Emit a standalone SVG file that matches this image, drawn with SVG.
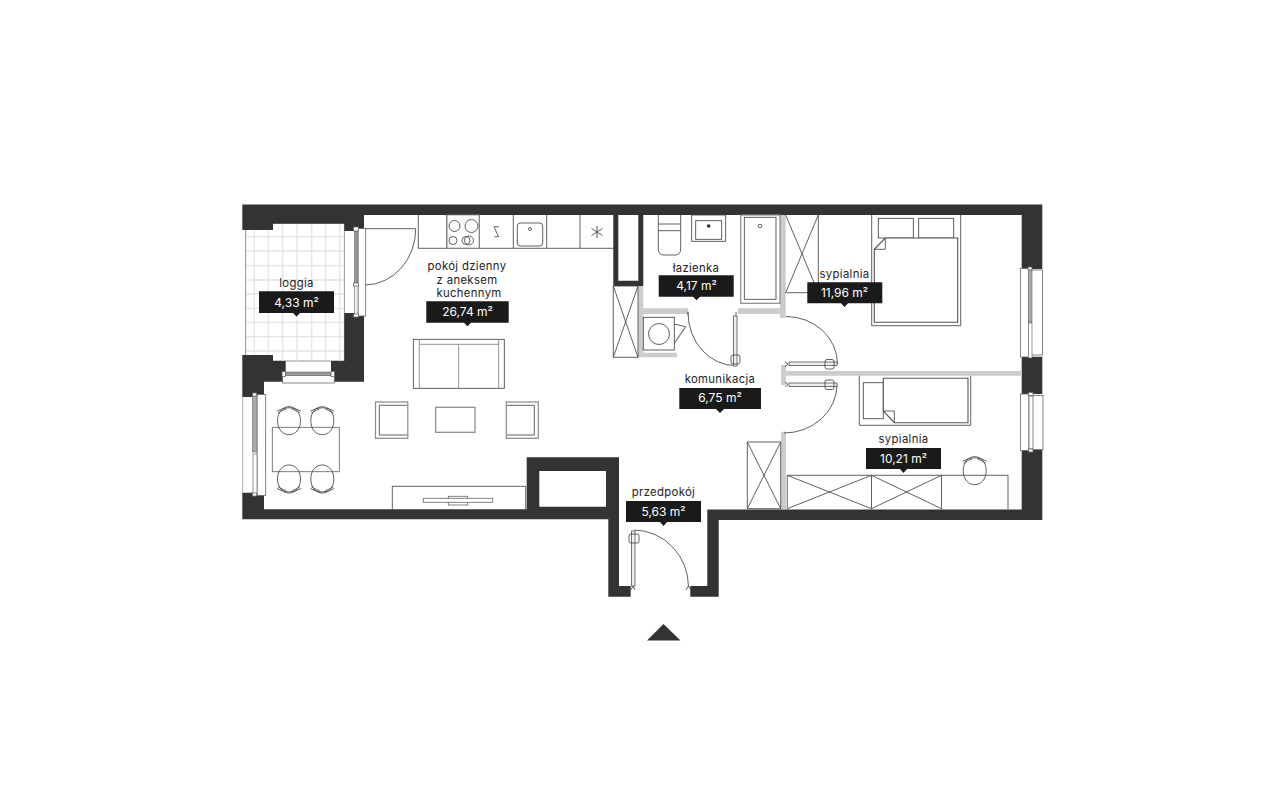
<svg xmlns="http://www.w3.org/2000/svg" width="1280" height="800" viewBox="0 0 1280 800">
<style>
.w{fill:#333}
.p{fill:#ccc}
.l{fill:none;stroke:#444;stroke-width:.85}
.g{fill:none;stroke:#888;stroke-width:1.2}
.wf{fill:#fff;stroke:#666;stroke-width:.8}
.lf{fill:#eee;stroke:#666;stroke-width:.9}
.t{stroke:#e4e4e4;stroke-width:1.3;fill:none}
.n{font-family:"Inter","Liberation Sans",sans-serif;font-size:11.3px;fill:#222;text-anchor:middle;letter-spacing:.35px}
.a{font-family:"Inter","Liberation Sans",sans-serif;font-size:12px;fill:#fff;text-anchor:middle}
.b{fill:#1a1a1a}
</style>
<defs>
<path id="chair" d="M-11.5 0C-11.5-9-6-14 0-14S11.500-9 11.500 0 6 14 0 14-11.500 9-11.500 0Z"/>
<path id="back" d="M-12 -9.500Q0 -16.500 12 -9.500M-11 -7.500Q-5 -11.500 -3 -11.500M11 -7.500Q5 -11.500 3 -11.500"/>
</defs>
<rect width="1280" height="800" fill="#fff"/>

<g id="loggia-floor">
<rect x="245.700" y="223" width="98.600" height="138" fill="#fff" stroke="#777" stroke-width=".8"/>
<path class="t" d="M254.300 224V361M268.300 224V361M282.700 224V361M297 224V361M311.700 224V361M325.700 224V361M340 224V361M246 236.700H344M246 251H344M246 265.700H344M246 280H344M246 294H344M246 308.300H344M246 322.300H344M246 336.700H344M246 351H344"/>
</g>

<g id="walls">
<path class="w" d="M242.300 204.500H1042.300V215H364V231H344.300V223.700H273V230H242.300Z
M344.300 313H364V381.700H331V361H344.300Z
M242.300 355H273V361H285.700V381.700H264V397H242.300Z
M242.300 492.700H264V509.300H526.700V457.300H619V586H630.700V596.700H608.300V519.300H242.300Z
M539.300 471V506.700H606V471Z
M707.300 509.500H1021.700V450H1042.300V520H718.700V596.700H690.300V586H707.300Z
M1021.700 215H1042.300V269H1021.700Z
M1021.700 356.700H1042.300V394H1021.700Z
M613.300 215H643.300V286H613.300ZM618.300 215V280.700H638.300V215Z" fill-rule="evenodd"/>
</g>

<g id="partitions">
<path class="p" d="M638.300 286H643.300V308.300H688V314H643.300V352.700H677V357.300H638.300Z
M738 308.300H780V215H785.700V318H780V314H738Z
M781 365H786V371H1022V375.700H786V385H781Z
M781 431.700H786V509H781Z"/>
</g>

<g id="windows">
<g id="window-loggia-door">
<rect class="wf" x="358" y="228.500" width="7.700" height="87.500"/>
<rect x="354.500" y="231" width="3.500" height="52" fill="#999" stroke="#555" stroke-width=".5"/>
<rect x="354.500" y="285" width="3.500" height="30" fill="#eee" stroke="#555" stroke-width=".5"/>
<rect class="wf" x="353.500" y="227" width="5" height="4"/>
<rect class="wf" x="353.500" y="283" width="5" height="3"/>
<rect class="wf" x="353.500" y="314" width="5" height="3"/>
</g>
<g id="window-loggia-bottom">
<rect class="wf" x="282.700" y="375" width="51.600" height="8"/>
<rect x="286" y="372" width="45" height="3.500" fill="#999" stroke="#555" stroke-width=".5"/>
<rect class="wf" x="282" y="371.500" width="3.500" height="5"/>
<rect class="wf" x="331" y="371.500" width="3.500" height="5"/>
</g>
<g id="window-left">
<path d="M242.700 397V492.700" stroke="#999" stroke-width=".8" fill="none"/>
<rect class="wf" x="257" y="394.500" width="8.700" height="101"/>
<rect x="252.500" y="396" width="4.500" height="56" fill="#aaa" stroke="#555" stroke-width=".5"/>
<rect x="253" y="454" width="4" height="42" fill="#fff" stroke="#555" stroke-width=".6"/>
<rect class="wf" x="252.500" y="393" width="4" height="3"/>
<rect class="wf" x="252.500" y="493" width="4" height="3"/>
</g>
<g id="window-right-1">
<rect class="wf" x="1020.500" y="268.500" width="8.500" height="88.500"/>
<rect class="wf" x="1031.500" y="270" width="11" height="85"/>
<rect x="1028.500" y="270" width="3.500" height="52" fill="#aaa" stroke="#555" stroke-width=".5"/>
<rect x="1028.500" y="323" width="3.500" height="35" fill="#fff" stroke="#555" stroke-width=".6"/>
<rect class="wf" x="1028" y="267" width="4" height="3"/>
</g>
<g id="window-right-2">
<rect class="wf" x="1020.500" y="394" width="8.500" height="56.500"/>
<rect class="wf" x="1032" y="395.500" width="11" height="54"/>
<rect x="1029" y="396" width="4" height="53" fill="#fff" stroke="#555" stroke-width=".7"/>
<rect class="wf" x="1028.500" y="392.500" width="4.500" height="3"/>
<rect class="wf" x="1028.500" y="449" width="4.500" height="3"/>
</g>
</g>

<g id="doors">
<g id="door-loggia"><path class="l" d="M365.500 228.700H415.700A51 56 0 0 1 365.500 285"/></g>
<g id="door-bathroom">
<path class="l" d="M688 312.500A48 53 0 0 0 736 365.700"/>
<path class="l" d="M688 311.500V315M736 312V316"/>
<rect class="lf" x="733.500" y="316" width="3.500" height="50"/>
<rect class="l" x="731" y="355" width="9" height="9" rx="2"/>
</g>
<g id="door-bedroom-1">
<path class="l" d="M786 316.500A51.500 47.500 0 0 1 837.500 364"/>
<rect class="lf" x="789" y="362" width="48" height="3.500"/>
<rect class="l" x="825" y="359.500" width="9" height="9.500" rx="2"/>
<path class="l" d="M785 362L788 364 785 367"/>
</g>
<g id="door-bedroom-2">
<path class="l" d="M837 384.500A53 48.500 0 0 1 784 433"/>
<rect class="lf" x="789" y="383" width="48" height="3.500"/>
<rect class="l" x="825" y="380" width="9" height="9.500" rx="2"/>
<path class="l" d="M785 382L788 384.500 785 387"/>
</g>
<g id="door-entry">
<path class="l" d="M634 530A55 57 0 0 1 688.500 587"/>
<rect class="lf" x="631.500" y="531" width="3.500" height="55"/>
<rect class="l" x="629" y="534" width="10" height="9" rx="2"/>
<path class="l" d="M631 590L633 586 635 590M686 590L688.500 586 691 590"/>
</g>
</g>

<g id="kitchen">
<path class="l" d="M418.300 215V248.300H613.300M446.700 215V248.300M479.300 215V248.300M513.300 215V248.300M546.700 215V248.300M580 215V248.300"/>
<rect class="g" x="447" y="215" width="32.300" height="33.300" style="stroke-width:.8"/>
<circle class="l" cx="454.500" cy="226" r="5.500"/><circle class="l" cx="471.500" cy="226" r="6.500"/>
<circle class="l" cx="453" cy="240.500" r="4"/><circle class="l" cx="469" cy="240.500" r="4.500"/><circle class="l" cx="466" cy="240.500" r="4"/>
<path class="l" d="M499 226.700H494L498.500 236.700H494.500"/>
<rect class="l" x="517.300" y="223" width="25.400" height="23" rx="3"/><circle class="l" cx="530" cy="229" r="1.500"/>
<path class="l" d="M597 226V238M591.500 228.500L602.500 235.500M591.500 235.500L602.500 228.500"/>
</g>

<g id="living-furniture">
<g id="sofa"><rect class="l" x="413.300" y="339.300" width="91" height="49"/><path class="g" d="M419.300 339.300V388.300M498.700 339.300V388.300M419.300 344.300H498.700M458.700 344.300V388.300" style="stroke-width:.9"/></g>
<g id="armchair-1"><rect class="g" x="375.500" y="402" width="32.300" height="36.300"/><path class="l" d="M407 405.300H379.300V435H407"/></g>
<g id="coffee-table"><rect class="g" x="435.700" y="407.300" width="39.300" height="25"/></g>
<g id="armchair-2"><rect class="g" x="506.300" y="402" width="32" height="36.300"/><path class="l" d="M507 405.300H534.300V435H507"/></g>
<g id="dining">
<rect class="l" x="272.300" y="427.300" width="67" height="44.400" style="stroke:#666"/>
<use href="#chair" x="289" y="420.700" class="l"/><use href="#chair" x="322.300" y="420.700" class="l"/>
<use href="#chair" x="289" y="479" class="l"/><use href="#chair" x="322.300" y="479" class="l"/>
<use href="#back" x="289" y="420.700" class="l"/><use href="#back" x="322.300" y="420.700" class="l"/>
<use href="#back" transform="translate(289 479) scale(1 -1)" class="l"/><use href="#back" transform="translate(322.300 479) scale(1 -1)" class="l"/>
</g>
<g id="tv"><path class="l" d="M392.300 509.300V486.300H525.700V509.300"/><rect class="wf" x="448.300" y="496.300" width="19.400" height="8.700"/><rect class="wf" x="423.300" y="498.300" width="69.400" height="4"/></g>
</g>

<g id="bathroom-furniture">
<g id="toilet"><path class="l" d="M658.300 215V224H680.700V215M658.300 224V230.700H680.700V224M658.300 230.700V249Q658.300 255 664 255H675Q680.700 255 680.700 249V230.700"/></g>
<g id="sink"><rect class="l" x="691.700" y="215" width="34" height="26.300"/><rect class="l" x="695.700" y="220.700" width="26" height="18.600"/><circle cx="708.700" cy="226" r="1.800" fill="#333"/></g>
<g id="bath"><rect class="g" x="740.700" y="215" width="39.300" height="88.300"/><rect class="l" x="744.300" y="217.300" width="31.700" height="82"/><circle class="l" cx="760" cy="226" r="1.800"/></g>
<g id="washer"><rect class="l" x="643.300" y="317.300" width="31" height="32.700"/><circle class="l" cx="659" cy="334" r="10.500"/><path class="l" d="M674.300 324L685.700 326.700 674.300 343.300"/><path class="g" d="M676 341L684.500 328"/></g>
</g>

<g id="closets">
<g id="closet-1"><path class="l" d="M613.300 286V357.300H638V286H613.300L638 357.300M638 286L613.300 357.300"/></g>
<g id="closet-2"><path class="l" d="M785.700 215L818.300 292.700M818.300 215L785.700 292.700M818.300 215V292.700H785.700"/></g>
<g id="closet-3"><path class="l" d="M747.300 442H780.700V508.700H747.300ZM747.300 442L780.700 508.700M780.700 442L747.300 508.700"/></g>
<g id="closet-4"><path class="l" d="M787.300 508.700V475.300H1008V509M871.500 475.300V508.700M941.500 475.300V508.700M787.300 475.300L871.500 508.700M871.500 475.300L787.300 508.700M871.500 475.300L941.500 508.700M941.500 475.300L871.500 508.700"/></g>
</g>

<g id="bedroom-furniture">
<g id="bed-1">
<path class="l" d="M871.700 215V325.700H960.700V215"/>
<rect class="l" x="878.300" y="218.300" width="35" height="19.700"/><rect class="l" x="918.700" y="218.300" width="35" height="19.700"/>
<path d="M885.300 238H957.700V322.300H874.300V249.300Z" fill="#fff" stroke="#555" stroke-width="1.100"/>
<path class="l" d="M885.300 238V249.300H874.300"/>
</g>
<g id="bed-2">
<path class="l" d="M859.300 375.700V425.300H970.700V375.700"/>
<rect class="l" x="863.300" y="382.700" width="20" height="36"/>
<path d="M883.300 378.300H968V422.700H894.300L883.300 411Z" fill="#fff" stroke="#555" stroke-width="1.100"/>
<path class="l" d="M883.300 411H894.300V422.700"/>
</g>
<g id="desk-chair"><use href="#chair" x="974.700" y="470.700" class="l"/><use href="#back" x="974.700" y="470.700" class="l"/></g>
</g>

<g id="label-loggia"><text class="n" x="296.500" y="287">loggia</text><path class="b" d="M259 291.300H334V313H300L296.500 316.500 293 313H259Z"/><text class="a" x="296.500" y="306.500">4,33 m²</text></g>
<g id="label-living"><text class="n" x="467" y="270">pokój dzienny</text><text class="n" x="467" y="283.500">z aneksem</text><text class="n" x="469" y="297">kuchennym</text><path class="b" d="M426.300 301.300H508.700V322.700H471L467.500 326.300 464 322.700H426.300Z"/><text class="a" x="467.500" y="316">26,74 m²</text></g>
<g id="label-bathroom"><text class="n" x="696" y="271.500">łazienka</text><path class="b" d="M658.700 275.300H733.700V296.700H700L696.500 300.300 693 296.700H658.700Z"/><text class="a" x="696.500" y="290">4,17 m²</text></g>
<g id="label-bedroom-1"><text class="n" x="844.500" y="278">sypialnia</text><path class="b" d="M807.300 282.300H882.300V303.300H848L844.500 307 841 303.300H807.300Z"/><text class="a" x="844.500" y="296.500">11,96 m²</text></g>
<g id="label-corridor"><text class="n" x="720" y="383">komunikacja</text><path class="b" d="M679.300 388H761V409H724L720 413 716 409H679.300Z"/><text class="a" x="720" y="402">6,75 m²</text></g>
<g id="label-bedroom-2"><text class="n" x="903.500" y="443">sypialnia</text><path class="b" d="M866 448H941V469H907L903.500 473 900 469H866Z"/><text class="a" x="903.500" y="462.500">10,21 m²</text></g>
<g id="label-hall"><text class="n" x="663.500" y="496">przedpokój</text><path class="b" d="M626 501H701V522H667L663.500 526 660 522H626Z"/><text class="a" x="663.500" y="515.500">5,63 m²</text></g>

<g id="entrance-arrow"><path fill="#333" d="M647 640.500L663.500 624 680.500 640.500Z"/></g>
</svg>
